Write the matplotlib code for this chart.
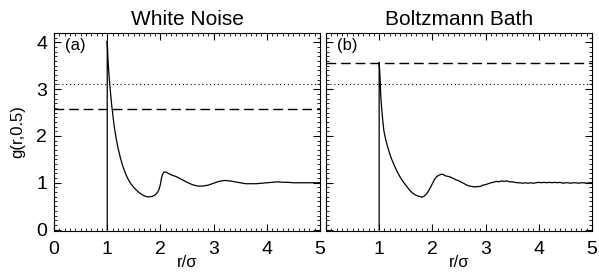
import numpy as np
import matplotlib
matplotlib.use("Agg")
import matplotlib.pyplot as plt
from matplotlib.ticker import MultipleLocator

plt.rcParams['font.family'] = ['Liberation Sans', 'DejaVu Sans']

# g(r) - white noise
r_wn = [1.00, 1.00, 1.01, 1.02, 1.04, 1.06, 1.08, 1.10, 1.13, 1.16,
        1.20, 1.25, 1.30, 1.35, 1.40, 1.45, 1.50, 1.55, 1.60, 1.65,
        1.70, 1.75, 1.80, 1.85, 1.90, 1.95, 1.98, 2.00, 2.02, 2.04,
        2.07, 2.10, 2.15, 2.20, 2.30, 2.40, 2.50, 2.60, 2.70, 2.80,
        2.90, 3.00, 3.10, 3.20, 3.30, 3.40, 3.50, 3.60, 3.70, 3.80,
        3.90, 4.00, 4.10, 4.20, 4.30, 4.40, 4.50, 4.60, 4.70, 4.80,
        4.90, 5.00]
g_wn = [0.00, 4.03, 3.75, 3.52, 3.20, 2.95, 2.70, 2.50, 2.22, 2.00,
        1.76, 1.52, 1.33, 1.18, 1.06, 0.97, 0.90, 0.84, 0.79, 0.75,
        0.72, 0.70, 0.70, 0.71, 0.74, 0.80, 0.88, 0.97, 1.10, 1.18,
        1.23, 1.23, 1.20, 1.17, 1.13, 1.07, 1.01, 0.96, 0.93, 0.93,
        0.95, 0.99, 1.03, 1.05, 1.04, 1.02, 1.00, 0.98, 0.98, 0.98,
        0.99, 1.00, 1.01, 1.02, 1.01, 1.01, 1.00, 1.00, 1.00, 1.00,
        1.00, 1.00]

# Boltzmann bath
r_bb = [1.00, 1.00, 1.01, 1.02, 1.03, 1.05, 1.07, 1.09, 1.12, 1.15,
        1.18, 1.21, 1.24, 1.27, 1.30, 1.33, 1.36, 1.40, 1.44, 1.48,
        1.52, 1.56, 1.60, 1.64, 1.68, 1.72, 1.76, 1.80, 1.84, 1.88,
        1.92, 1.96, 2.00, 2.04, 2.08, 2.12, 2.16, 2.20, 2.24, 2.28,
        2.32, 2.36, 2.40, 2.45, 2.50, 2.55, 2.60, 2.65, 2.70, 2.75,
        2.80, 2.85, 2.90, 2.95, 3.00, 3.05, 3.10, 3.15, 3.20, 3.25,
        3.30, 3.35, 3.40, 3.45, 3.50, 3.55, 3.60, 3.65, 3.70, 3.75,
        3.80, 3.85, 3.90, 3.95, 4.00, 4.05, 4.10, 4.15, 4.20, 4.25,
        4.30, 4.35, 4.40, 4.45, 4.50, 4.55, 4.60, 4.65, 4.70, 4.75,
        4.80, 4.85, 4.90, 4.95, 5.00]
g_bb = [0.00, 3.57, 3.40, 3.15, 2.85, 2.55, 2.30, 2.10, 1.94, 1.80,
        1.69, 1.58, 1.49, 1.41, 1.33, 1.26, 1.19, 1.11, 1.04, 0.98,
        0.92, 0.86, 0.81, 0.77, 0.74, 0.72, 0.71, 0.69, 0.71, 0.75,
        0.81, 0.89, 0.98, 1.07, 1.13, 1.16, 1.18, 1.18, 1.15, 1.14,
        1.13, 1.11, 1.09, 1.06, 1.04, 1.01, 0.98, 0.95, 0.93, 0.92,
        0.91, 0.92, 0.92, 0.95, 0.96, 0.98, 1.00, 1.01, 1.03, 1.02,
        1.04, 1.03, 1.04, 1.02, 1.02, 1.01, 1.00, 1.00, 0.99, 1.00,
        0.99, 1.00, 0.99, 1.00, 1.01, 1.00, 1.01, 1.00, 1.01, 1.00,
        1.01, 1.00, 1.01, 0.99, 1.00, 1.00, 0.99, 1.00, 1.00, 0.99,
        1.00, 1.00, 0.99, 1.00, 1.00]

titles = ["White Noise", "Boltzmann Bath"]
panel_tags = ["(a)", "(b)"]
dotted_lvl = [3.12, 3.12]
dashed_lvl = [2.57, 3.56]

fig = plt.figure(figsize=(5.99, 2.74), dpi=100)
ax1 = fig.add_axes([0.0902, 0.157, 0.444, 0.7226])
ax2 = fig.add_axes([0.5442, 0.157, 0.444, 0.7226])

data = [(r_wn, g_wn), (r_bb, g_bb)]
for i, ax in enumerate([ax1, ax2]):
    r, g = data[i]
    ax.plot(r, g, color='black', lw=0.9)
    ax.axhline(dotted_lvl[i], color='black', lw=0.8, ls=(0, (1, 2.5)))
    ax.axhline(dashed_lvl[i], color='black', lw=1.0, ls=(0, (7, 3.5)))
    ax.set_xlim(0, 5)
    ax.set_ylim(-0.03, 4.2)
    ax.xaxis.set_major_locator(MultipleLocator(1))
    ax.xaxis.set_minor_locator(MultipleLocator(0.1))
    ax.yaxis.set_major_locator(MultipleLocator(1))
    ax.yaxis.set_minor_locator(MultipleLocator(0.1))
    ax.tick_params(which='both', direction='in', top=True, right=True,
                   labelsize=14)
    ax.tick_params(axis='x', which='major', pad=7)
    ax.tick_params(axis='y', which='major', pad=5)
    ax.tick_params(which='major', length=5, width=0.8)
    ax.tick_params(which='minor', length=2.5, width=0.6)
    for s in ax.spines.values():
        s.set_linewidth(0.8)
    ax.set_title(titles[i], fontsize=15, pad=6)
    ax.set_xlabel(r'r/σ', fontsize=12, labelpad=-2)
    ax.text(0.04, 0.975, panel_tags[i], transform=ax.transAxes,
            fontsize=12, va='top', ha='left')

ax1.set_ylabel('g(r,0.5)', fontsize=12, labelpad=8)
ax2.set_yticklabels([])
ax2.set_xticks([0, 1, 2, 3, 4, 5])
ax2.set_xticklabels(['', '1', '2', '3', '4', '5'])

fig.savefig('out.png', dpi=100)
